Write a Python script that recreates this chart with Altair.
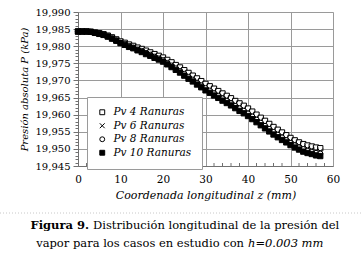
import altair as alt
import pandas as pd

# ---------------- data ----------------
z_mm = list(range(58))

pv4 = [19.9843, 19.9843, 19.9843, 19.9842, 19.9840, 19.9838, 19.9835, 19.9831, 19.9826, 19.9820,
       19.9814, 19.9810, 19.9805, 19.9801, 19.9796, 19.9792, 19.9787, 19.9782, 19.9777, 19.9772,
       19.9767, 19.9760, 19.9753, 19.9745, 19.9738, 19.9730, 19.9722, 19.9714, 19.9706, 19.9698,
       19.9690, 19.9683, 19.9676, 19.9669, 19.9662, 19.9655, 19.9648, 19.9640, 19.9633, 19.9626,
       19.9618, 19.9609, 19.9600, 19.9591, 19.9582, 19.9573, 19.9564, 19.9556, 19.9548, 19.9540,
       19.9532, 19.9525, 19.9519, 19.9514, 19.9510, 19.9507, 19.9504, 19.9502]

pv6 = [19.9843, 19.9843, 19.9843, 19.9842, 19.9840, 19.9837, 19.9834, 19.9830, 19.9824, 19.9818,
       19.9812, 19.9808, 19.9802, 19.9798, 19.9793, 19.9788, 19.9783, 19.9778, 19.9773, 19.9768,
       19.9762, 19.9755, 19.9747, 19.9739, 19.9732, 19.9724, 19.9715, 19.9707, 19.9699, 19.9691,
       19.9682, 19.9675, 19.9668, 19.9661, 19.9654, 19.9647, 19.9640, 19.9632, 19.9624, 19.9617,
       19.9609, 19.9600, 19.9591, 19.9582, 19.9573, 19.9564, 19.9555, 19.9547, 19.9539, 19.9531,
       19.9524, 19.9517, 19.9511, 19.9505, 19.9501, 19.9498, 19.9495, 19.9493]

pv8 = [19.9843, 19.9843, 19.9843, 19.9842, 19.9839, 19.9837, 19.9834, 19.9829, 19.9823, 19.9817,
       19.9810, 19.9806, 19.9800, 19.9796, 19.9790, 19.9786, 19.9780, 19.9775, 19.9769, 19.9764,
       19.9759, 19.9751, 19.9743, 19.9735, 19.9727, 19.9719, 19.9710, 19.9702, 19.9693, 19.9685,
       19.9677, 19.9670, 19.9662, 19.9655, 19.9647, 19.9640, 19.9633, 19.9625, 19.9618, 19.9611,
       19.9603, 19.9594, 19.9585, 19.9576, 19.9567, 19.9558, 19.9549, 19.9541, 19.9533, 19.9525,
       19.9517, 19.9510, 19.9504, 19.9499, 19.9494, 19.9491, 19.9488, 19.9486]

pv10 = [19.9843, 19.9843, 19.9843, 19.9842, 19.9839, 19.9836, 19.9833, 19.9828, 19.9822, 19.9816,
        19.9809, 19.9804, 19.9798, 19.9794, 19.9788, 19.9783, 19.9777, 19.9772, 19.9766, 19.9761,
        19.9755, 19.9747, 19.9739, 19.9731, 19.9723, 19.9714, 19.9705, 19.9697, 19.9688, 19.9680,
        19.9671, 19.9664, 19.9656, 19.9649, 19.9641, 19.9634, 19.9627, 19.9619, 19.9611, 19.9604,
        19.9596, 19.9587, 19.9578, 19.9569, 19.9560, 19.9551, 19.9542, 19.9534, 19.9526, 19.9519,
        19.9511, 19.9504, 19.9498, 19.9492, 19.9488, 19.9485, 19.9481, 19.9479]

series_names = ["Pv 4 Ranuras", "Pv 6 Ranuras", "Pv 8 Ranuras", "Pv 10 Ranuras"]

x_major = [0, 10, 20, 30, 40, 50, 60]
x_minor = [2, 4, 6, 8, 12, 14, 16, 18, 22, 24, 26, 28, 32, 34, 36, 38, 42, 44, 46, 48, 52, 54, 56, 58]
y_ticks = [round(19.945 + 0.001 * i, 3) for i in range(46)]

x_title = "Coordenada longitudinal z (mm)"
y_title = "Presión absoluta  P (kPa)"
cap1_bold = ["Figura 9."]
cap1_rest = ["Distribución longitudinal de la presión del"]
cap2_rest = ["vapor para los casos en estudio con"]
cap2_ital = ["h=0.003 mm"]

# ---------------- table ----------------
rows = []
for name, vals in zip(series_names, [pv4, pv6, pv8, pv10]):
    for zz, p in zip(z_mm, vals):
        rows.append({"z": zz, "P": p, "serie": name})
df = pd.DataFrame(rows)

W, H = 255, 154
SERIF = "DejaVu Serif"
GRID = "#9a9a9a"

major_test = "abs(datum.value*200 - round(datum.value*200)) < 0.01"

x_scale = alt.Scale(domain=[0, 60], nice=False, zero=False)
y_scale = alt.Scale(domain=[19.945, 19.990], nice=False, zero=False)

legend = alt.Legend(
    title=None, orient="none", legendX=9, legendY=85,
    fillColor="white", strokeColor=GRID, padding=10, cornerRadius=0,
    labelFont=SERIF, labelFontStyle="italic", labelFontSize=10.5, labelColor="black",
    symbolSize=24, symbolStrokeWidth=1, rowPadding=2.5, labelOffset=6,
)

shape_scale = alt.Scale(domain=series_names,
                        range=["square", "M-1,-1L1,1M-1,1L1,-1", "circle", "square"])
fill_scale = alt.Scale(domain=series_names, range=["white", "white", "white", "black"])
stroke_scale = alt.Scale(domain=series_names, range=["black", "black", "black", "black"])

points = alt.Chart(df).mark_point(size=28, strokeWidth=1, opacity=1, fillOpacity=1).encode(
    x=alt.X("z:Q", scale=x_scale, title=x_title,
            axis=alt.Axis(values=x_major, grid=True, gridColor=GRID, gridWidth=1,
                          tickSize=0, labelPadding=8, labelFont=SERIF, labelFontSize=10.5,
                          labelColor="black", titleFont=SERIF, titleFontSize=11,
                          titleFontStyle="italic", titleFontWeight="normal", titleColor="black",
                          titlePadding=5, domainColor="#707070", labelFlush=False)),
    y=alt.Y("P:Q", scale=y_scale, title=y_title,
            axis=alt.Axis(values=y_ticks, grid=True, gridColor=GRID, gridWidth=1,
                          gridOpacity={"condition": {"test": major_test, "value": 1}, "value": 0},
                          tickSize={"condition": {"test": major_test, "value": 5}, "value": 3},
                          tickColor="#707070",
                          labelExpr="(abs(datum.value*200 - round(datum.value*200)) < 0.01) ? replace(format(datum.value, '.3f'), '.', ',') : ''",
                          labelPadding=3, labelFont=SERIF, labelFontSize=10, labelColor="black",
                          labelFlush=False,
                          titleFont=SERIF, titleFontSize=10, titleFontStyle="italic",
                          titleFontWeight="normal", titleColor="black", titlePadding=6,
                          domainColor="#707070")),
    shape=alt.Shape("serie:N", scale=shape_scale, sort=series_names, legend=legend),
    fill=alt.Fill("serie:N", scale=fill_scale, sort=series_names, legend=legend),
    stroke=alt.Stroke("serie:N", scale=stroke_scale, sort=series_names, legend=legend),
    order=alt.Order("idx:Q"),
).transform_calculate(idx="indexof(['Pv 4 Ranuras','Pv 6 Ranuras','Pv 8 Ranuras','Pv 10 Ranuras'], datum.serie)*100 + datum.z")

minor_x = alt.Chart(pd.DataFrame({"t": x_minor})).mark_rule(color="#707070", strokeWidth=1).encode(
    x=alt.X("t:Q", scale=x_scale),
    y=alt.value(H - 3), y2=alt.value(H),
)

sep = alt.Chart(pd.DataFrame({"a": [0]})).mark_rule(color="#c8c8c8", strokeDash=[1, 2], strokeWidth=1).encode(
    x=alt.value(-78), x2=alt.value(W + 30), y=alt.value(201),
)

def caption(texts, x, y, align, weight="normal", style="normal"):
    return alt.Chart(pd.DataFrame({"t": texts})).mark_text(
        align=align, baseline="alphabetic", font=SERIF, fontSize=11.5,
        fontWeight=weight, fontStyle=style, color="black",
    ).encode(text="t:N", x=alt.value(x), y=alt.value(y))

c1a = caption(cap1_bold, 11, 217, "right", weight="bold")
c1b = caption(cap1_rest, 15, 217, "left")
c2a = caption(cap2_rest, 166, 234.5, "right")
c2b = caption(cap2_ital, 170, 234.5, "left", style="italic")

chart = alt.layer(points, minor_x, sep, c1a, c1b, c2a, c2b).properties(
    width=W, height=H,
    autosize=alt.AutoSizeParams(type="none"),
    padding={"left": 78, "top": 12, "right": 30, "bottom": 95},
).configure_view(strokeWidth=0).configure(background="white", font=SERIF)

chart.save("out.html", embed_options={"renderer": "svg", "actions": False})
